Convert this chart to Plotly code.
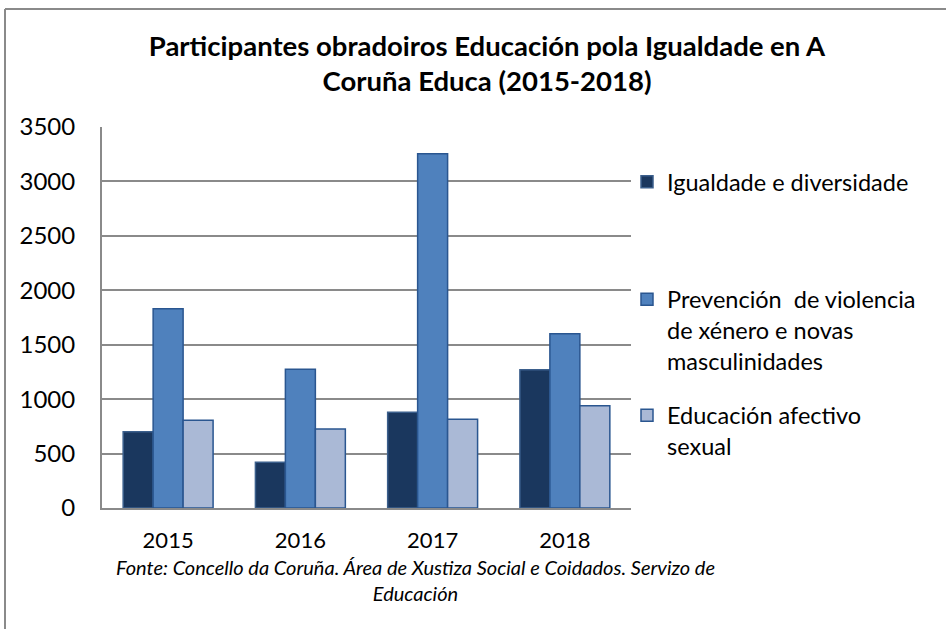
import plotly.graph_objects as go

# ── Data ──────────────────────────────────────────────────────────────────────
years = ["2015", "2016", "2017", "2018"]
igualdade = [700, 420, 880, 1270]
prevencion = [1830, 1275, 3255, 1600]
afectivo = [805, 725, 815, 940]

series_names = [
    "Igualdade e diversidade",
    "Prevención  de violencia<br>de xénero e novas<br>masculinidades",
    "Educación afectivo<br>sexual",
]

_DARK = "#1a375e"
_MID = "#4f81bd"
_LIGHT = "#aab9d6"
_EDGE = "#2a5690"
_GRID = "#8a8a8a"
_FONT = "Lato, 'Open Sans', sans-serif"

# plot area in pixels (from the reference)
L, R, T, B = 102, 315, 127, 121
W, H = 946, 629
pw, ph = W - L - R, H - T - B

fig = go.Figure()
for vals, name, col, edge, leg in [
    (igualdade, series_names[0], _DARK, "#3b5f8c", "legend"),
    (prevencion, series_names[1], _MID, _EDGE, "legend2"),
    (afectivo, series_names[2], _LIGHT, _EDGE, "legend3"),
]:
    fig.add_trace(go.Bar(
        x=years, y=vals, name=name, legend=leg, showlegend=True,
        marker=dict(color=col, line=dict(color=edge, width=1.5)),
    ))

leg_common = dict(
    xref="container", yref="container", xanchor="left", yanchor="middle",
    font=dict(family=_FONT, size=23.5, color="#000000"),
    bgcolor="rgba(0,0,0,0)", valign="top", itemwidth=30, visible=True,
)

fig.update_layout(
    width=W, height=H, showlegend=True,
    paper_bgcolor="white", plot_bgcolor="white",
    font=dict(family=_FONT, color="#000000", size=24),
    title=dict(
        text="<b>Participantes obradoiros Educación pola Igualdade en A<br>Coruña Educa (2015-2018)</b>",
        x=487 / W, xanchor="center", y=1 - 55.5 / H, yanchor="middle",
        font=dict(family=_FONT, size=27.5, color="#000000"),
    ),
    margin=dict(l=L, r=R, t=T, b=B, autoexpand=False),
    barmode="group", bargap=0.32, bargroupgap=0,
    xaxis=dict(
        showline=True, linecolor=_GRID, linewidth=2,
        ticks="", ticklabelstandoff=12,
        tickfont=dict(family=_FONT, size=22),
    ),
    yaxis=dict(
        range=[0, 3500], dtick=500, showline=True, linecolor=_GRID, linewidth=2,
        showgrid=True, gridcolor=_GRID, gridwidth=1.5, zeroline=False,
        ticks="", ticklabelstandoff=20,
        tickfont=dict(family=_FONT, size=24),
    ),
    legend=dict(x=627 / W, y=1 - 182 / H, **leg_common),
    legend2=dict(x=627 / W, y=1 - 330 / H, **leg_common),
    legend3=dict(x=627 / W, y=1 - 431 / H, **leg_common),
    annotations=[dict(
        text="<i>Fonte: Concello da Coruña. Área de Xustiza Social e Coidados. Servizo de<br>Educación</i>",
        xref="paper", yref="paper",
        x=(415 - L) / pw, y=-45 / ph,
        xanchor="center", yanchor="top", showarrow=False, align="center",
        font=dict(family=_FONT, size=20, color="#000000"),
    )],
    shapes=[
        dict(type="line", xref="paper", yref="paper",
             x0=(5 - L) / pw, x1=(W - L) / pw,
             y0=(H - B - 9) / ph, y1=(H - B - 9) / ph,
             line=dict(color="#8a8a8a", width=2)),
        dict(type="line", xref="paper", yref="paper",
             x0=(5 - L) / pw, x1=(5 - L) / pw,
             y0=-B / ph, y1=(H - B - 9) / ph,
             line=dict(color="#8a8a8a", width=2)),
    ],
)

# drop the browser's default body margin so the figure sits at the page corner
fig.write_html("out.html", config={"displayModeBar": False},
               post_script="document.body.style.margin='0';")
